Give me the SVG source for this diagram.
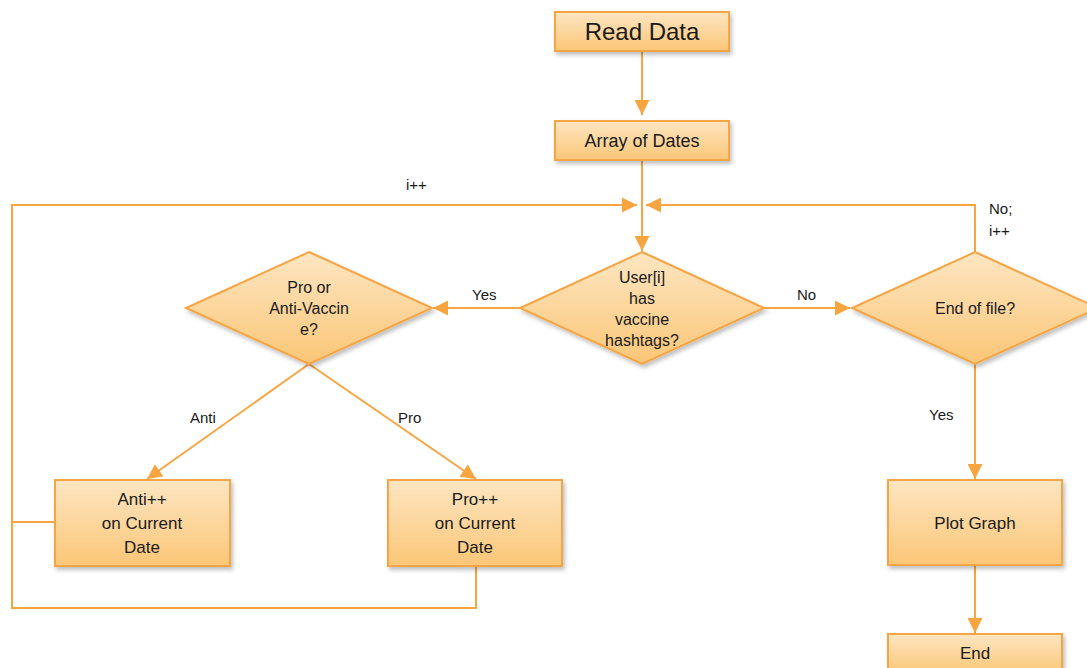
<svg xmlns="http://www.w3.org/2000/svg" width="1087" height="668" viewBox="0 0 1087 668">
<defs>
<linearGradient id="g" x1="0" y1="0" x2="0" y2="1">
<stop offset="0" stop-color="#fde6c2"/>
<stop offset="1" stop-color="#fbc677"/>
</linearGradient>
<filter id="sh" x="-10%" y="-10%" width="130%" height="130%">
<feDropShadow dx="2" dy="3" stdDeviation="2" flood-color="#000" flood-opacity="0.25"/>
</filter>
<marker id="ah" viewBox="0 0 10 10" refX="10" refY="5" markerWidth="15" markerHeight="15" markerUnits="userSpaceOnUse" orient="auto">
<path d="M0,0 L10,5 L0,10 Z" fill="#f7a540"/>
</marker>
</defs>
<style>
.n{fill:url(#g);stroke:#f5a544;stroke-width:2;filter:url(#sh)}
.c{fill:none;stroke:#f7a540;stroke-width:2}
.t{font-family:"Liberation Sans",Arial,sans-serif;fill:#1a1a1a;text-anchor:middle}
.l{font-family:"Liberation Sans",Arial,sans-serif;fill:#1a1a1a;font-size:15px}
</style>
<rect width="1087" height="668" fill="#fff"/>
<g id="connectors">
<path class="c" d="M642,51 V115" marker-end="url(#ah)"/>
<path class="c" d="M642,160 V251" marker-end="url(#ah)"/>
<path class="c" d="M12,522 V205 H637" marker-end="url(#ah)"/>
<path class="c" d="M55,522 H12 V608 H476 V566"/>
<path class="c" d="M975,252 V205 H646" marker-end="url(#ah)"/>
<path class="c" d="M520,308 H433" marker-end="url(#ah)"/>
<path class="c" d="M764,308 H850" marker-end="url(#ah)"/>
<path class="c" d="M309,364 L147,479" marker-end="url(#ah)"/>
<path class="c" d="M309,364 L476,479" marker-end="url(#ah)"/>
<path class="c" d="M975,364 V479" marker-end="url(#ah)"/>
<path class="c" d="M975,565 V633" marker-end="url(#ah)"/>
<text class="l" x="406" y="190">i++</text>
<text class="l" x="472" y="300">Yes</text>
<text class="l" x="797" y="300">No</text>
<text class="l" x="989" y="214">No;</text>
<text class="l" x="989" y="236">i++</text>
<text class="l" x="190" y="423">Anti</text>
<text class="l" x="398" y="423">Pro</text>
<text class="l" x="929" y="420">Yes</text>
</g>
<g id="read-data">
<rect class="n" x="555" y="12" width="174" height="39"/>
<text class="t" x="642" y="40" font-size="24">Read Data</text>
</g>
<g id="array-of-dates">
<rect class="n" x="555" y="121" width="174" height="39"/>
<text class="t" x="642" y="147" font-size="18">Array of Dates</text>
</g>
<g id="user-has-hashtags">
<polygon class="n" points="642,252 764,308 642,364 520,308"/>
<text class="t" font-size="16"><tspan x="642" y="283">User[i]</tspan><tspan x="642" y="304">has</tspan><tspan x="642" y="325">vaccine</tspan><tspan x="642" y="346">hashtags?</tspan></text>
</g>
<g id="pro-or-anti">
<polygon class="n" points="309,252 432,308 309,364 186,308"/>
<text class="t" font-size="16"><tspan x="309" y="293">Pro or</tspan><tspan x="309" y="314">Anti-Vaccin</tspan><tspan x="309" y="335">e?</tspan></text>
</g>
<g id="end-of-file">
<polygon class="n" points="975,252 1098,308 975,364 852,308"/>
<text class="t" x="975" y="314" font-size="16">End of file?</text>
</g>
<g id="anti-box">
<rect class="n" x="55" y="480" width="175" height="86"/>
<text class="t" font-size="17"><tspan x="142" y="505">Anti++</tspan><tspan x="142" y="529">on Current</tspan><tspan x="142" y="553">Date</tspan></text>
</g>
<g id="pro-box">
<rect class="n" x="388" y="480" width="174" height="86"/>
<text class="t" font-size="17"><tspan x="475" y="505">Pro++</tspan><tspan x="475" y="529">on Current</tspan><tspan x="475" y="553">Date</tspan></text>
</g>
<g id="plot-graph">
<rect class="n" x="888" y="480" width="174" height="85"/>
<text class="t" x="975" y="529" font-size="17">Plot Graph</text>
</g>
<g id="end">
<rect class="n" x="888" y="634" width="174" height="40"/>
<text class="t" x="975" y="659" font-size="17">End</text>
</g>
</svg>
